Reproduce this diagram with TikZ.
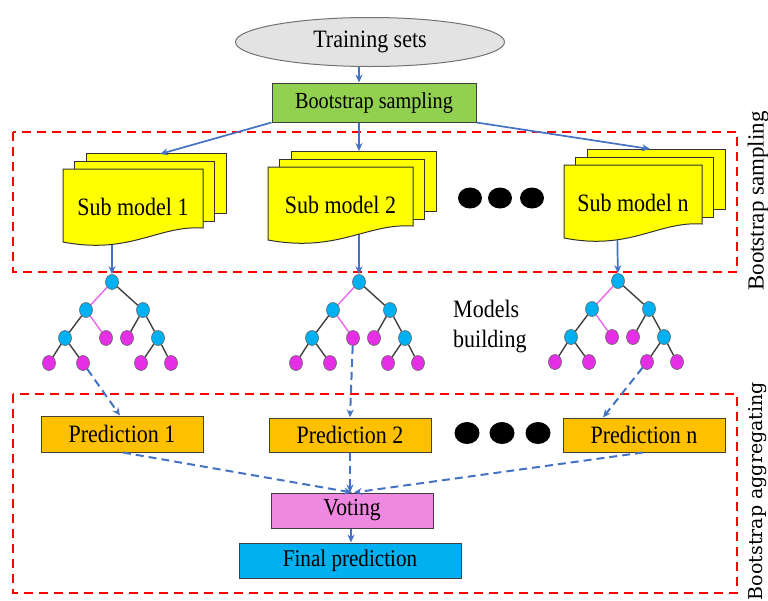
\documentclass[tikz,border=0pt]{standalone}
\usepackage{fontspec}
\setmainfont{Liberation Serif}[FakeStretch=0.88]
\newfontfamily\sidefont{Liberation Serif}
\newfontfamily\slabfont{DejaVu Serif}
\usetikzlibrary{arrows.meta,shapes.geometric}

\definecolor{flowblue}{HTML}{4472C4}
\definecolor{leafpink}{HTML}{E62EE6}
\definecolor{nodecyan}{HTML}{00B0F0}
\definecolor{edgepink}{HTML}{EE66EE}
\definecolor{sampgreen}{HTML}{92D050}
\definecolor{predorange}{HTML}{FFC000}
\definecolor{votepink}{HTML}{EE88E0}
\definecolor{finalcyan}{HTML}{00B0F0}
\definecolor{setgray}{HTML}{E3E3E3}
\definecolor{docyellow}{HTML}{FFFF00}

\newcommand{\fsz}[1]{\fontsize{#1}{#1}\selectfont}

\tikzset{
  flow/.style={draw=flowblue, line width=1.7pt, -{Stealth[length=8pt,width=7pt]}},
  dflow/.style={flow, line width=2pt, dash pattern=on 8pt off 5pt},
  region/.style={draw=red, line width=2.5pt, dash pattern=on 9pt off 6pt},
  procbox/.style={rectangle, draw=black!75, line width=1pt, inner sep=0pt},
  docline/.style={draw=black!80, line width=1pt, fill=docyellow},
  doctext/.style={inner sep=0pt, font=\fsz{25}},
  treeedge/.style={draw=black!75, line width=1.4pt},
  pinkedge/.style={draw=edgepink, line width=1.4pt},
  inode/.style={ellipse, draw=black!60, line width=0.6pt, fill=nodecyan,
                minimum width=13pt, minimum height=15pt, inner sep=0pt},
  leaf/.style={inode, fill=leafpink},
  bigdot/.style={ellipse, fill=black, minimum width=24pt, minimum height=21pt, inner sep=0pt}
}

% stacked document shape: two plain sheets behind a front sheet with a wavy bottom
\newcommand{\subdoc}[5]{%
  \draw[docline] ({#2+23},{#3-16}) rectangle ({#2+23+#4},{#3+44});
  \draw[docline] ({#2+11},{#3-8}) rectangle ({#2+11+#4},{#3+52});
  \draw[docline] (#2,#3) -- ({#2+#4},#3) -- ({#2+#4},{#3+59})
     .. controls ({#2+0.68*#4},{#3+56}) and ({#2+0.48*#4},{#3+86}) .. (#2,{#3+73}) -- cycle;
  \node[doctext] (#1) at ({#2+#4/2},{#3+38}) {#5};
}

% small decision tree with its root at (#2,#3)
\newcommand{\dtree}[3]{%
  \begin{scope}[shift={(#2,#3)}]
    \node[inode] (#1r)   at (0,0) {};
    \node[inode] (#1a)   at (-26,28) {};
    \node[inode] (#1b)   at (31,28) {};
    \node[inode] (#1aa)  at (-47,56) {};
    \node[leaf]  (#1ab)  at (-6,56) {};
    \node[leaf]  (#1ba)  at (15,56) {};
    \node[inode] (#1bb)  at (46,56) {};
    \node[leaf]  (#1aaa) at (-63,81) {};
    \node[leaf]  (#1aab) at (-29,81) {};
    \node[leaf]  (#1bba) at (29,81) {};
    \node[leaf]  (#1bbb) at (59,81) {};
  \end{scope}
  \draw[pinkedge] (#1r) -- (#1a);
  \draw[treeedge] (#1r) -- (#1b);
  \draw[treeedge] (#1a) -- (#1aa);
  \draw[pinkedge] (#1a) -- (#1ab);
  \draw[treeedge] (#1b) -- (#1ba);
  \draw[treeedge] (#1b) -- (#1bb);
  \draw[treeedge] (#1aa) -- (#1aaa);
  \draw[treeedge] (#1aa) -- (#1aab);
  \draw[treeedge] (#1bb) -- (#1bba);
  \draw[treeedge] (#1bb) -- (#1bbb);
}

\begin{document}
\begin{tikzpicture}[x=1pt, y=-1pt]
\useasboundingbox (0,0) rectangle (768,600);

% dashed stage frames
\draw[region] (13,132) rectangle (737,272);
\draw[region] (13,394) rectangle (737,593);

% source data and sampling
\node[ellipse, draw=black!55, line width=1pt, fill=setgray,
      minimum width=269pt, minimum height=49pt, inner sep=0pt,
      font=\fsz{25}] (train) at (370,42) {Training sets};
\node[procbox, fill=sampgreen, minimum width=204pt, minimum height=39pt,
      font=\fsz{23}] (boot) at (374,102.5) {Bootstrap sampling};
\draw[flow] ([xshift=-11pt]train.south) -- ([xshift=-15pt]boot.north);

% trees
\dtree{ta}{112}{282}
\dtree{tb}{359}{282}
\dtree{tn}{618}{281}

% sub model to tree arrows (start hidden under the sheets)
\coordinate (s1out) at (112,220);
\coordinate (s2out) at (359,220);
\coordinate (snout) at (617,218);
\draw[flow] (s1out) -- (tar);
\draw[flow] (s2out) -- (tbr);
\draw[flow] (snout) -- (tnr);

% sub models
\subdoc{s1}{63}{169}{140}{Sub model 1}
\subdoc{s2}{268}{167}{145}{Sub model 2}
\subdoc{sn}{564}{165}{138}{Sub model n}

\coordinate (s1in) at (160,154);
\coordinate (s2in) at (359,151);
\coordinate (snin) at (650,149);
\draw[flow] (boot.south west) -- (s1in);
\draw[flow] ([xshift=-15pt]boot.south) -- (s2in);
\draw[flow] (boot.south east) -- (snin);

\node[bigdot] (d1) at (470,198) {};
\node[bigdot] (d2) at (500,198) {};
\node[bigdot] (d3) at (532,198) {};

\node[anchor=west, align=left, inner sep=0pt, font=\fontsize{25}{30}\selectfont]
  (mb) at (453,327) {Models\\building};

% predictions
\node[procbox, fill=predorange, minimum width=162pt, minimum height=36pt,
      font=\fsz{25}] (p1) at (122,434) {Prediction 1};
\node[procbox, fill=predorange, minimum width=162pt, minimum height=34pt,
      font=\fsz{25}] (p2) at (350,435) {Prediction 2};
\node[procbox, fill=predorange, minimum width=162pt, minimum height=34pt,
      font=\fsz{25}] (pn) at (644,435) {Prediction n};

\node[bigdot, minimum width=25pt, minimum height=22pt] (e1) at (467,433) {};
\node[bigdot, minimum width=25pt, minimum height=22pt] (e2) at (502,433) {};
\node[bigdot, minimum width=25pt, minimum height=22pt] (e3) at (538,433) {};

\draw[dflow] (taaab) -- ([xshift=-2pt]p1.north);
\draw[dflow] (tbab) -- (p2.north);
\draw[dflow] (tnbba) -- ([xshift=-41pt]pn.north);

% aggregation
\node[procbox, fill=votepink, minimum width=162pt, minimum height=35pt,
      font=\fsz{24.5}] (vote) at (352,510.5) {Voting};
\node[procbox, fill=finalcyan, minimum width=222pt, minimum height=35pt,
      font=\fsz{24}] (final) at (350,560.5) {Final prediction};

\draw[dflow] ([xshift=1pt]p1.south) -- (vote.north);
\draw[dflow] (p2.south) -- ([xshift=-2pt]vote.north);
\draw[dflow] ([xshift=-1pt]pn.south) -- ([xshift=2pt]vote.north);
\draw[flow] ([xshift=-1pt]vote.south) -- ([xshift=-1pt]vote.south |- final.north);

% stage captions
\node[rotate=90, inner sep=0pt, font=\sidefont\fsz{23}] (cap1) at (758,201) {Bootstrap sampling};
\node[rotate=90, inner sep=0pt, font=\slabfont\fsz{19}] (cap2) at (758,491) {Bootstrap aggregating};
\end{tikzpicture}
\end{document}
